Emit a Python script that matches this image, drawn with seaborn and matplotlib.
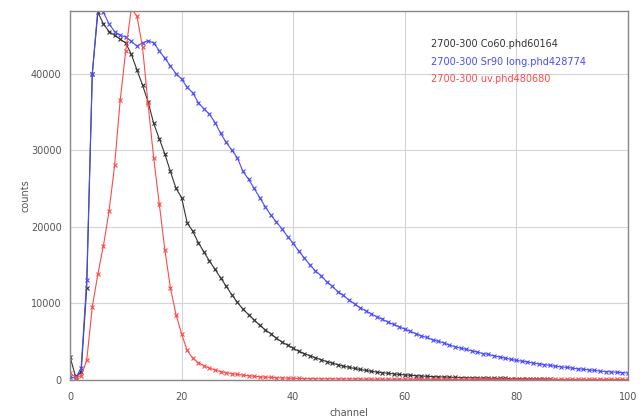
import numpy as np
import pandas as pd
import matplotlib
matplotlib.use("Agg")
import matplotlib.pyplot as plt
import seaborn as sns

# Pulse-height spectra (counts per channel)
co60_counts = [3000, 400, 1000, 12000, 40000, 48000, 46500, 45500, 45000, 44500,
               44000, 42500, 40500, 38500, 36300, 33500, 31500, 29500, 27200, 25000,
               23800, 20500, 19400, 17900, 16700, 15500, 14400, 13300, 12200, 11100,
               10100, 9200, 8500, 7800, 7100, 6500, 6000, 5400, 4900, 4500,
               4100, 3700, 3400, 3100, 2850, 2600, 2350, 2150, 1950, 1750,
               1600, 1450, 1320, 1200, 1080, 980, 890, 810, 740, 670,
               610, 560, 500, 460, 420, 390, 350, 330, 300, 280,
               260, 240, 220, 200, 190, 170, 160, 150, 140, 130,
               120, 110, 100, 95, 90, 85, 80]
sr90_counts = [300, 200, 1500, 13000, 40000, 48500, 48000, 46500, 45500, 45000,
               44800, 44200, 43600, 44000, 44300, 44000, 43000, 42000, 41000, 40000,
               39300, 38200, 37500, 36200, 35400, 34700, 33600, 32200, 31000, 30000,
               29000, 27200, 26200, 25000, 23800, 22600, 21500, 20600, 19700, 18700,
               17800, 16800, 15900, 15000, 14200, 13600, 12800, 12200, 11500, 11000,
               10400, 9900, 9400, 9000, 8600, 8200, 7900, 7500, 7200, 6900,
               6600, 6300, 6000, 5700, 5500, 5200, 5000, 4800, 4500, 4300,
               4100, 3950, 3750, 3600, 3400, 3300, 3100, 2950, 2800, 2650,
               2500, 2400, 2300, 2150, 2050, 1950, 1850, 1750, 1650, 1600,
               1500, 1400, 1350, 1250, 1200, 1100, 1050, 1000, 950, 900, 850]
uv_counts = [800, 300, 500, 2500, 9500, 13800, 17500, 22000, 28000, 36500,
             43000, 48500, 47500, 43500, 36000, 29000, 23000, 17000, 12000, 8500,
             6000, 3800, 2800, 2200, 1800, 1500, 1250, 1050, 900, 780,
             670, 580, 500, 430, 370, 320, 280, 240, 210, 180,
             160, 145, 130, 120, 110, 100, 95, 90, 85, 80,
             75, 70, 66, 62, 58, 55, 52, 50, 48, 46,
             44, 42, 40, 38, 37, 36, 35, 34, 33, 32,
             31, 30, 30, 29, 28, 28, 27, 27, 26, 26,
             25, 25, 24, 24, 23, 23, 22, 22, 22, 21,
             21, 21, 20, 20, 20, 20, 19, 19, 19, 19, 18]

series_names = ["2700-300 Co60.phd60164",
                "2700-300 Sr90 long.phd428774",
                "2700-300 uv.phd480680"]
series_colors = ["#333333", "#4a4aff", "#ff4a4a"]
y_ticks = [0, 10000, 20000, 30000, 40000]
x_ticks = [0, 20, 40, 60, 80, 100]

sns.set_style("whitegrid")
plt.rcParams["font.family"] = ["DejaVu Sans"]

fig = plt.figure(figsize=(6.42, 4.18), dpi=100)
ax = fig.add_axes([0.109, 0.092, 0.869, 0.882])

for name, counts, col in zip(series_names,
                             [co60_counts, sr90_counts, uv_counts],
                             series_colors):
    frame = pd.DataFrame({"channel": np.arange(len(counts)), "counts": counts})
    sns.lineplot(data=frame, x="channel", y="counts", color=col,
                 marker="x", markersize=3.5, markeredgewidth=0.8,
                 markeredgecolor=col, linewidth=0.8, ax=ax,
                 estimator=None)

ax.set_xlim(0, 100)
ax.set_ylim(0, 48200)
ax.set_xticks(x_ticks)
ax.set_yticks(y_ticks)
ax.tick_params(axis="both", length=0, labelsize=7, labelcolor="#555555")
ax.tick_params(axis="x", pad=9)
ax.tick_params(axis="y", pad=6)
ax.grid(True, color="#d4d4d4", linewidth=0.8)
for sp in ax.spines.values():
    sp.set_color("#888888")
    sp.set_linewidth(1.0)
ax.set_xlabel("channel", fontsize=7, color="#555555", labelpad=4)
ax.set_ylabel("counts", fontsize=7, color="#555555", labelpad=0)

for i, (name, col) in enumerate(zip(series_names, series_colors)):
    ax.text(0.648, 0.91 - i * 0.048, name, transform=ax.transAxes,
            fontsize=7, color=col, va="center", ha="left")

fig.savefig("out.png", dpi=100, facecolor="white")
